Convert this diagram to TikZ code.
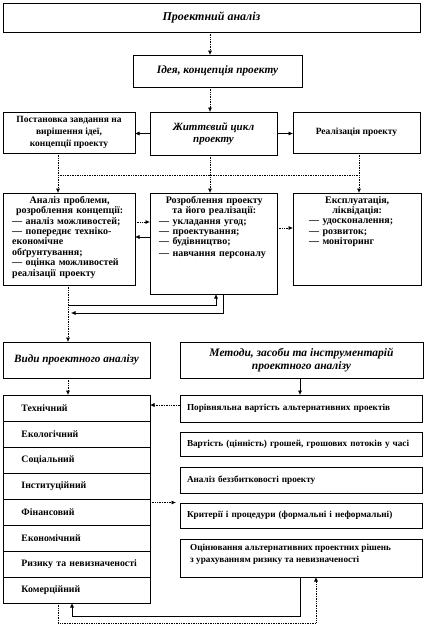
\documentclass[tikz,border=0pt]{standalone}
\usepackage{fontspec}
\setmainfont{Liberation Serif}
\usetikzlibrary{arrows.meta}
\begin{document}
\begin{tikzpicture}[x=1pt,y=-1pt,
  box/.style={draw, line width=0.6pt, rectangle, inner sep=0pt, outer sep=0pt},
  dl/.style={densely dotted, line width=0.7pt},
  sl/.style={line width=0.6pt},
  arr/.style={-{Latex[length=4.5pt,width=4pt]}},
  hbig/.style={font=\fontsize{12}{13}\selectfont\bfseries\itshape, align=center},
  hmid/.style={font=\fontsize{10.5}{12}\selectfont\bfseries\itshape, align=center},
  tmid/.style={font=\fontsize{9.5}{12}\selectfont\bfseries, align=center},
  tlist/.style={font=\fontsize{10}{10.4}\selectfont\bfseries, align=left, inner sep=0pt},
  row/.style={box, minimum width=147pt, minimum height=26pt, text width=128pt, align=left,
     font=\fontsize{9.8}{10}\selectfont\bfseries},
  rbox/.style={box, minimum width=242pt, text width=228pt, align=left,
     font=\fontsize{9.2}{12}\selectfont\bfseries}
]
\useasboundingbox (0,0) rectangle (426,625);

% top
\node[box, minimum width=417pt, minimum height=29pt, hbig] (top) at (211.5,17.5) {Проектний аналіз};
\node[box, minimum width=169pt, minimum height=32pt, hmid, font=\fontsize{11.3}{12}\selectfont\bfseries\itshape] (idea) at (217.5,71) {Ідея, концепція проекту};

% row 2
\node[box, minimum width=132pt, minimum height=41pt, tmid] (r2l) at (69,132.5)
  {Постановка завдання на\\ вирішення ідеї,\\ концепції проекту};
\node[box, minimum width=127pt, minimum height=43pt, hmid, font=\fontsize{11}{12}\selectfont\bfseries\itshape] (r2m) at (213.5,133.5)
  {Життєвий цикл\\ проекту};
\node[box, minimum width=127pt, minimum height=41pt, tmid] (r2r) at (356.5,132.5) {Реалізація проекту};

% row 3
\node[box, minimum width=132pt, minimum height=92pt] (r3l) at (69,239) {};
\node[box, minimum width=127pt, minimum height=101pt] (r3m) at (213.5,243.5) {};
\node[box, minimum width=128pt, minimum height=92pt] (r3r) at (357,239) {};

\node[tlist, anchor=north west, text width=122pt] (r3lt) at ([xshift=9pt,yshift=-3pt]r3l.north west)
  {\makebox[115pt]{Аналіз проблеми,}\\ \makebox[115pt]{розроблення концепції:}\\
   — аналіз можливостей;\\ — попереднє техніко-\\ економічне\\ обґрунтування;\\
   — оцінка можливостей\\ реалізації проекту};
\node[tlist, anchor=north west, text width=117pt] (r3mt) at ([xshift=9pt,yshift=-3pt]r3m.north west)
  {\makebox[110pt]{Розроблення проекту}\\ \makebox[110pt]{та його реалізації:}\\
   — укладання угод;\\ — проектування;\\ — будівництво;\\[1.5pt] — навчання персоналу};
\node[tlist, anchor=north west, text width=104pt] (r3rt) at ([xshift=16pt,yshift=-3pt]r3r.north west)
  {\makebox[96pt]{Експлуатація,}\\ \makebox[96pt]{ліквідація:}\\
   — удосконалення;\\ — розвиток;\\ — моніторинг};

% row 4
\node[box, minimum width=147pt, minimum height=36pt, hmid, font=\fontsize{11.2}{12}\selectfont\bfseries\itshape] (vidy) at (76.5,360) {Види проектного аналізу};
\node[box, minimum width=243pt, minimum height=36pt, hmid, font=\fontsize{11.5}{12.5}\selectfont\bfseries\itshape] (meth) at (301.5,360)
  {Методи, засоби та інструментарій\\ проектного аналізу};

% list
\node[row] (l1) at (76.5,408) {\hspace*{9pt}Технічний};
\node[row] (l2) at (76.5,434) {\hspace*{9pt}Екологічний};
\node[row] (l3) at (76.5,460) {\hspace*{9pt}Соціальний};
\node[row] (l4) at (76.5,486) {\hspace*{9pt}Інституційний};
\node[row] (l5) at (76.5,512) {\hspace*{9pt}Фінансовий};
\node[row] (l6) at (76.5,538) {\hspace*{9pt}Економічний};
\node[row] (l7) at (76.5,564) {\hspace*{9pt}Ризику та невизначеності};
\node[row] (l8) at (76.5,590) {\hspace*{9pt}Комерційний};

% right boxes
\node[rbox, minimum height=27pt] (b1) at (301,408.5) {Порівняльна вартість альтернативних проектів};
\node[rbox, minimum height=24pt] (b2) at (301,444) {Вартість (цінність) грошей, грошових потоків у часі};
\node[rbox, minimum height=26pt] (b3) at (301,480) {Аналіз беззбитковості проекту};
\node[rbox, minimum height=25pt] (b4) at (301,515.5) {Критерії і процедури (формальні і неформальні)};
\node[rbox, minimum height=38pt] (b5) at (301,558) {};
\node[anchor=north west, inner sep=0pt, align=left, font=\fontsize{9.2}{12}\selectfont\bfseries] (b5t)
  at ([xshift=10pt,yshift=-5pt]b5.north west)
  {Оцінювання альтернативних проектних рішень\\ з урахуванням ризику та невизначеності};

% connectors top
\draw[dl,arr] ([xshift=-1.5pt]top.south) -- ([xshift=-7.5pt]idea.north);
\draw[dl,arr] ([xshift=-7.5pt]idea.south) -- ([xshift=-3.5pt]r2m.north);
\draw[sl,arr] (r2m.west) -- (r2l.east |- r2m.west);
\draw[sl,arr] (r2m.east) -- (r2r.west |- r2m.east);

% bus
\coordinate (busL) at (58,175);
\coordinate (busR) at (359,175);
\draw[dl] (busL) -- (busR);
\draw[dl,arr] ([xshift=-11pt]r2l.south) -- ([xshift=-11pt]r3l.north);
\draw[dl,arr] ([xshift=-3.5pt]r2m.south) -- ([xshift=-3.5pt]r3m.north);
\draw[dl,arr] ([xshift=2.5pt]r2r.south) -- ([xshift=2pt]r3r.north);

% row 3 links
\coordinate (a1) at ([yshift=17pt]r3l.east);
\draw[dl,arr] (a1) -- (a1 -| r3m.west);
\coordinate (a2) at ([yshift=2pt]r3l.east);
\draw[sl,arr] (a2 -| r3m.west) -- (a2);
\coordinate (a3) at ([yshift=11pt]r3r.west);
\draw[dl,arr] (a3 -| r3m.east) -- (a3);

% down to vidy and loops
\draw[dl,arr] ([xshift=-1pt]r3l.south) -- ([xshift=-8.5pt]vidy.north);
\coordinate (j1) at (68,305);
\draw[sl,arr] (j1) -| ([xshift=2.5pt]r3m.south);
\coordinate (j2) at (71,313);
\draw[sl,arr] ([xshift=9.5pt]r3m.south) |- (j2);

% lower part
\draw[dl,arr] ([xshift=-8.5pt]vidy.south) -- ([xshift=-8.5pt]l1.north);
\draw[sl,arr] ([xshift=-1.5pt]meth.south) -- ([xshift=-1pt]b1.north);
\coordinate (a4) at ([yshift=3.5pt]b1.west);
\draw[dl,arr] (a4) -- (a4 -| l1.east);
\coordinate (a5) at ([yshift=13pt,xshift=-4pt]b4.west);
\draw[dl,arr] (a5 -| l5.east) -- (a5);

\coordinate (c1) at (300,616);
\coordinate (c2) at (72,616);
\draw[sl,arr] (b5.south -| c1) -- (c1) -- (c2) -- (c2 |- l8.south);
\coordinate (d1) at (58,623);
\coordinate (d2) at (316,623);
\draw[dl,arr] (d1 |- l8.south) -- (d1) -- (d2) -- (d2 |- b5.south);
\end{tikzpicture}
\end{document}
